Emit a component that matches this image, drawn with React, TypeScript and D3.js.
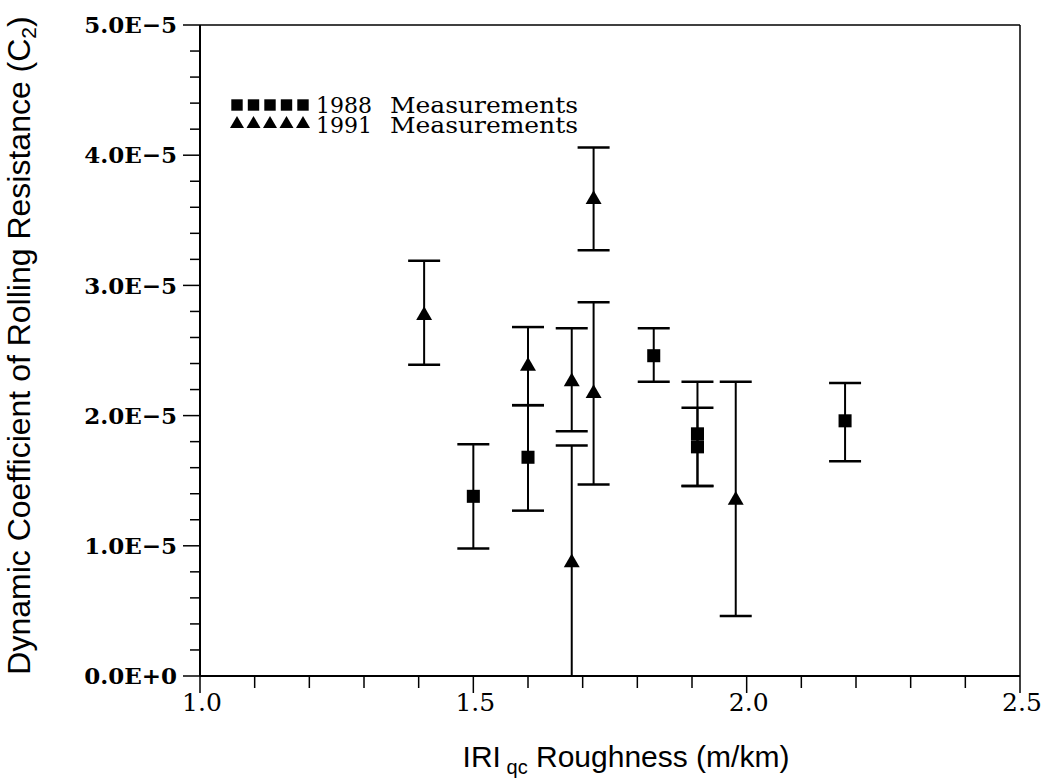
import React from "react";
import * as d3 from "d3";

// ---- data (C2 values in units of 1E-5) ----
const x1988 = [1.50, 1.60, 1.83, 1.91, 1.91, 2.18];
const y1988 = [1.38, 1.68, 2.46, 1.86, 1.76, 1.96];
const lo1988 = [0.98, 1.27, 2.26, 1.46, 1.46, 1.65];
const hi1988 = [1.78, 2.08, 2.67, 2.26, 2.06, 2.25];

const x1991 = [1.41, 1.60, 1.68, 1.68, 1.72, 1.72, 1.98];
const y1991 = [2.77, 2.38, 2.26, 0.87, 2.17, 3.66, 1.35];
const lo1991 = [2.39, 2.08, 1.88, 0.0, 1.47, 3.27, 0.46];
const hi1991 = [3.19, 2.68, 2.67, 1.77, 2.87, 4.06, 2.26];

const xMajorTicks = [1.0, 1.5, 2.0, 2.5];
const xTickLabels = ["1.0", "1.5", "2.0", "2.5"];
const yMajorTicks = [0, 1, 2, 3, 4, 5];
const yTickLabels = ["0.0E+0", "1.0E\u22125", "2.0E\u22125", "3.0E\u22125", "4.0E\u22125", "5.0E\u22125"];
const legendYears = ["1988", "1991"];
const legendText = "Measurements";

const W = 1043;
const H = 778;
const M = { left: 200, right: 1020, top: 25, bottom: 676 };

export default function App() {
  const x = d3.scaleLinear().domain([1.0, 2.5]).range([M.left, M.right]);
  const y = d3.scaleLinear().domain([0, 5]).range([M.bottom, M.top]);

  const xMinor = x.ticks(15);
  const yMinor = y.ticks(25);
  const isMajor = (v: number, step: number) => Math.abs(v / step - Math.round(v / step)) < 1e-6;

  const tri = d3.symbol().type(d3.symbolTriangle).size(110)()!;
  const sq = d3.symbol().type(d3.symbolSquare).size(170)()!;
  const triSmall = d3.symbol().type(d3.symbolTriangle).size(85)()!;
  const sqSmall = d3.symbol().type(d3.symbolSquare).size(130)()!;

  const capHalf = 16;
  const serif = "'DejaVu Serif', 'Liberation Serif', serif";
  const sans = "'Liberation Sans', Arial, sans-serif";

  const errBar = (xv: number, lo: number, hi: number, key: string) => {
    const cx = x(xv);
    const yl = y(Math.max(0, lo));
    const yh = y(hi);
    return (
      <g key={key} stroke="#000">
        <line x1={cx} x2={cx} y1={yl} y2={yh} strokeWidth={2} />
        <line x1={cx - capHalf} x2={cx + capHalf} y1={yh} y2={yh} strokeWidth={2.5} />
        {lo > 0 && <line x1={cx - capHalf} x2={cx + capHalf} y1={yl} y2={yl} strokeWidth={2.5} />}
      </g>
    );
  };

  return (
    <svg width={W} height={H} style={{ position: "absolute", left: 0, top: 0, background: "#fff" }}>
      <rect x={0} y={0} width={W} height={H} fill="#fff" />
      {/* frame */}
      <line x1={M.left} x2={M.right} y1={M.top} y2={M.top} stroke="#000" strokeWidth={1.5} />
      <line x1={M.right} x2={M.right} y1={M.top} y2={M.bottom} stroke="#000" strokeWidth={1.5} />
      <line x1={M.left} x2={M.left} y1={M.top} y2={M.bottom} stroke="#000" strokeWidth={2} />
      <line x1={M.left} x2={M.right} y1={M.bottom} y2={M.bottom} stroke="#000" strokeWidth={2} />

      {/* y ticks */}
      {yMinor.map((v, i) => {
        const major = isMajor(v, 1);
        return (
          <line key={"yt" + i} x1={M.left - (major ? 17 : 10)} x2={M.left} y1={y(v)} y2={y(v)} stroke="#000" strokeWidth={1.5} />
        );
      })}
      {yMajorTicks.map((v, i) => (
        <text key={"yl" + i} x={M.left - 23} y={y(v)} dy="0.36em" textAnchor="end" fontFamily={serif} fontWeight="bold" fontSize={23}>
          {yTickLabels[i]}
        </text>
      ))}

      {/* x ticks */}
      {xMinor.map((v, i) => {
        const major = isMajor(v, 0.5);
        return (
          <line key={"xt" + i} x1={x(v)} x2={x(v)} y1={M.bottom} y2={M.bottom + (major ? 17 : 12)} stroke="#000" strokeWidth={1.5} />
        );
      })}
      {xMajorTicks.map((v, i) => (
        <text key={"xl" + i} x={x(v) + 2} y={M.bottom + 35} textAnchor="middle" fontFamily={serif} fontSize={25}>
          {xTickLabels[i]}
        </text>
      ))}

      {/* axis titles */}
      <text transform={`translate(30, ${(M.top + M.bottom) / 2 - 5}) rotate(-90)`} textAnchor="middle" fontFamily={sans} fontSize={32}>
        Dynamic Coefficient of Rolling Resistance (C
        <tspan fontSize={21} dy={6}>2</tspan>
        <tspan dy={-6}>)</tspan>
      </text>
      <text x={626} y={767} textAnchor="middle" fontFamily={sans} fontSize={30}>
        IRI
        <tspan fontSize={20} dy={7}> qc</tspan>
        <tspan dy={-7}> Roughness (m/km)</tspan>
      </text>

      {/* error bars */}
      {x1988.map((v, i) => errBar(v, lo1988[i], hi1988[i], "e88" + i))}
      {x1991.map((v, i) => errBar(v, lo1991[i], hi1991[i], "e91" + i))}

      {/* markers */}
      {x1988.map((v, i) => (
        <path key={"m88" + i} d={sq} transform={`translate(${x(v)},${y(y1988[i])})`} fill="#000" />
      ))}
      {x1991.map((v, i) => (
        <path key={"m91" + i} d={tri} transform={`translate(${x(v)},${y(y1991[i])})`} fill="#000" />
      ))}

      {/* legend */}
      {[0, 1, 2, 3, 4].map((k) => (
        <path key={"ls" + k} d={sqSmall} transform={`translate(${237 + k * 16.5},105)`} fill="#000" />
      ))}
      {[0, 1, 2, 3, 4].map((k) => (
        <path key={"lt" + k} d={triSmall} transform={`translate(${237 + k * 16.5},124)`} fill="#000" />
      ))}
      {legendYears.map((yr, i) => (
        <text key={"lg" + i} x={316} y={113 + i * 20} fontFamily={serif} fontSize={22}>
          <tspan>{yr}</tspan>
          <tspan x={390} textLength={188} lengthAdjust="spacingAndGlyphs">{legendText}</tspan>
        </text>
      ))}
    </svg>
  );
}
